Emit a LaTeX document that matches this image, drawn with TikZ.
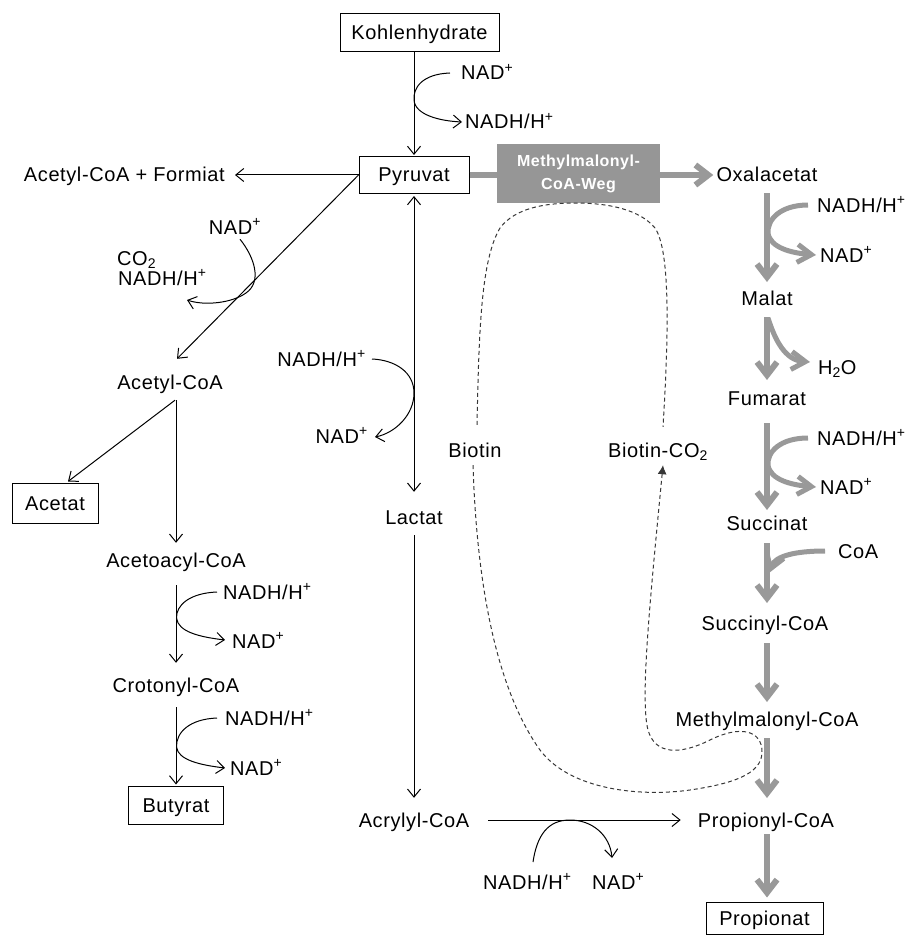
\documentclass[tikz,border=0pt]{standalone}
\usepackage{fontspec}
\setmainfont[LetterSpace=3]{Liberation Sans}
\usetikzlibrary{arrows.meta,calc}
\definecolor{mygray}{RGB}{153,153,153}
\definecolor{boxgray}{RGB}{150,150,150}
\definecolor{dashgray}{RGB}{55,55,55}
\begin{document}
\begin{tikzpicture}[x=1pt,y=-1pt,
  every node/.style={inner sep=0pt, font=\fontsize{20}{24}\selectfont, text height=14pt, text depth=0pt},
  box/.style={draw, line width=1pt},
  arr/.style={line width=1pt, -{Straight Barb[length=8pt,width=13pt]}},
  darr/.style={line width=1pt, {Straight Barb[length=8pt,width=13pt]}-{Straight Barb[length=8pt,width=13pt]}},
  gline/.style={draw=mygray, line width=6.5pt},
  garr/.style={draw=mygray, line width=6pt, -{Straight Barb[length=13pt,width=20pt]}},
  gside/.style={draw=mygray, line width=5pt, -{Straight Barb[length=14pt,width=18pt]}},
  dashline/.style={draw=dashgray, line width=1pt, dash pattern=on 4pt off 3pt}
]
\useasboundingbox (0,0) rectangle (907,936);

% ---- boxes
\node[box, minimum width=159pt, minimum height=38pt] (kohl) at (419.5,33) {Kohlenhydrate};
\node[box, minimum width=110pt, minimum height=37pt] (pyr) at (414,175) {Pyruvat};
\node[fill=boxgray, minimum width=163pt, minimum height=59pt, text height=, text depth=, align=center,
      text=white, font=\bfseries\fontsize{16}{23}\selectfont] (mm) at (578.5,173.5) {Methylmalonyl-\\CoA-Weg};
\node[box, minimum width=86pt, minimum height=40pt] (acetat) at (55,503) {Acetat};
\node[box, minimum width=95pt, minimum height=38pt] (butyrat) at (176,805) {Butyrat};
\node[box, minimum width=117pt, minimum height=32pt] (propionat) at (764.5,918) {Propionat};

% ---- text nodes
\node[anchor=west] (nadK) at (461,73) {NAD\textsuperscript{+}};
\node[anchor=west] (nadhK) at (465,122) {NADH/H\textsuperscript{+}};
\node[anchor=east] (formiat) at (225,175) {Acetyl-CoA + Formiat};
\node (nadP) at (235,227) {NAD\textsuperscript{+}};
\node[anchor=west] (co2) at (117,258) {CO\textsubscript{2}};
\node[anchor=west] (nadhP) at (118,278) {NADH/H\textsuperscript{+}};
\node (acetyl) at (170,382) {Acetyl-CoA};
\node (acetoacyl) at (176,560) {Acetoacyl-CoA};
\node[anchor=west] (nadhA1) at (223,592) {NADH/H\textsuperscript{+}};
\node[anchor=west] (nadA1) at (232,641) {NAD\textsuperscript{+}};
\node (croton) at (176,685) {Crotonyl-CoA};
\node[anchor=west] (nadhA2) at (225,718) {NADH/H\textsuperscript{+}};
\node[anchor=west] (nadA2) at (230,768) {NAD\textsuperscript{+}};
\node[anchor=east] (nadhL) at (366,359) {NADH/H\textsuperscript{+}};
\node[anchor=east] (nadL) at (368,436) {NAD\textsuperscript{+}};
\node (lactat) at (414,517) {Lactat};
\node (acrylyl) at (414,820) {Acrylyl-CoA};
\node[anchor=west] (nadhB) at (483,882) {NADH/H\textsuperscript{+}};
\node[anchor=west] (nadB) at (592,882) {NAD\textsuperscript{+}};
\node (biotin) at (475,450) {Biotin};
\node (biotinco) at (658,450) {Biotin-CO\textsubscript{2}};
\node (oxal) at (767,175) {Oxalacetat};
\node[anchor=west] (nadhR1) at (817,205) {NADH/H\textsuperscript{+}};
\node[anchor=west] (nadR1) at (820,255) {NAD\textsuperscript{+}};
\node (malat) at (767,298) {Malat};
\node[anchor=west] (h2o) at (818,367) {H\textsubscript{2}O};
\node (fumarat) at (767,398) {Fumarat};
\node[anchor=west] (nadhR2) at (817,438) {NADH/H\textsuperscript{+}};
\node[anchor=west] (nadR2) at (820,487) {NAD\textsuperscript{+}};
\node (succinat) at (767,523) {Succinat};
\node[anchor=west] (coa) at (838,551) {CoA};
\node (succinyl) at (765,623) {Succinyl-CoA};
\node (methylmal) at (767,719) {Methylmalonyl-CoA};
\node (propionyl) at (766,820) {Propionyl-CoA};

% ---- black connectors
\draw[arr, shorten >=1pt] (kohl.south -| pyr.north) -- (pyr.north);
\draw[arr] ($(nadK.west)+(-11,0)$) .. controls (422,74) and (413,88) .. (414,100)
  .. controls (415,115) and (440,121) .. ($(nadhK.west)+(-3,0)$);
\draw[arr, shorten >=10pt] (pyr.west) -- (formiat.east);
\draw[arr] (pyr.west) -- ($(acetyl.north)+(7,-16)$);
\draw[arr] ($(nadP.south)+(5,5)$) .. controls (255,258) and (262,282) .. (246,293)
  .. controls (232,303) and (205,306) .. ($(nadhP.west)+(69,22)$);
\draw[darr, shorten <=2pt, shorten >=18pt] (pyr.south) -- (lactat.north);
\draw[arr] ($(nadhL.east)+(6,0)$) .. controls (395,360) and (414,372) .. (414,393)
  .. controls (414,415) and (395,433) .. ($(nadL.east)+(7,1)$);
\draw[arr, shorten <=11pt, shorten >=15pt] (lactat.south) -- (acrylyl.north);
\draw[arr, shorten <=19pt, shorten >=17pt] (acrylyl.east) -- (propionyl.west);
\draw[arr] ($(nadhB.west)+(50,-20)$) .. controls (537,835) and (548,820) .. (570,820)
  .. controls (592,820) and (610,835) .. ($(nadB.west)+(20,-24)$);
\draw[arr] ($(acetyl.south)+(5,11)$) -- ($(acetat.north)+(13,-1)$);
\draw[arr, shorten <=11pt, shorten >=10pt] (acetyl.south -| acetoacyl.north) -- (acetoacyl.north);
\draw[arr, shorten <=18pt, shorten >=15pt] (acetoacyl.south) -- (croton.north);
\draw[arr] ($(nadhA1.west)+(-6,0)$) .. controls (190,593) and (176,605) .. (176.5,618)
  .. controls (178,632) and (200,637) .. ($(nadA1.west)+(-7,-1)$);
\draw[arr, shorten <=15pt, shorten >=1pt] (croton.south) -- (butyrat.north);
\draw[arr] ($(nadhA2.west)+(-8,0)$) .. controls (190,719) and (176,732) .. (176.5,747)
  .. controls (178,760) and (200,765) .. ($(nadA2.west)+(-5,0)$);

% ---- grey pathway
\draw[gline] (pyr.east) -- (pyr.east -| mm.west);
\draw[garr, shorten >=3pt] (oxal.west -| mm.east) -- (oxal.west);
\draw[garr, shorten <=18pt, shorten >=16pt] (oxal.center) -- (malat.center);
\draw[garr, shorten <=19pt, shorten >=18pt] (malat.center) -- (fumarat.center);
\draw[garr, shorten <=25pt, shorten >=13pt] (fumarat.center) -- (succinat.center);
\draw[garr, shorten <=20pt, shorten >=20pt] (succinat.center) -- (succinat.center |- succinyl.center);
\draw[garr, shorten <=20pt, shorten >=17pt] (methylmal.center |- succinyl.center) -- (methylmal.center);
\draw[garr, shorten <=19pt, shorten >=22pt] (methylmal.center) -- (methylmal.center |- propionyl.center);
\draw[garr, shorten <=14pt, shorten >=4pt] (methylmal.center |- propionyl.center) -- (methylmal.center |- propionat.north);

\draw[gside] ($(nadhR1.west)+(-9,0)$) .. controls (780,205) and (767,220) .. (768,233)
  .. controls (770,248) and (792,253) .. ($(nadR1.west)+(-4,0)$);
\draw[gside] ($(malat.center)+(1,20)$) .. controls (775,340) and (785,360) .. ($(h2o.west)+(-8,-5)$);
\draw[gside] ($(nadhR2.west)+(-9,0)$) .. controls (780,438) and (767,452) .. (768,465)
  .. controls (770,480) and (792,485) .. ($(nadR2.west)+(-4,0)$);
\draw[gside] ($(coa.west)+(-13,0)$) .. controls (795,551) and (775,556) .. ($(coa.west)+(-69,22)$);

% ---- biotin cycle
\draw[dashline] ($(biotin.north)+(2,-18)$) .. controls (479,330) and (481,260) .. (500,228)
  .. controls (515,208) and (545,203) .. (575,203)
  .. controls (610,203) and (640,210) .. (655,228)
  .. controls (670,250) and (669,330) .. ($(biotinco.north)+(5,-16)$);
\draw[dashline, -{Latex[length=9pt,width=9pt]}] ($(biotin.south)+(-2,8)$)
  .. controls (476,560) and (490,680) .. (540,750)
  .. controls (570,790) and (640,797) .. (690,790)
  .. controls (730,784) and (762,775) .. (762,752)
  .. controls (762,730) and (740,725) .. (710,740)
  .. controls (680,755) and (655,755) .. (648,730)
  .. controls (640,700) and (650,600) .. ($(biotinco.south)+(5,8)$);
\end{tikzpicture}
\end{document}
